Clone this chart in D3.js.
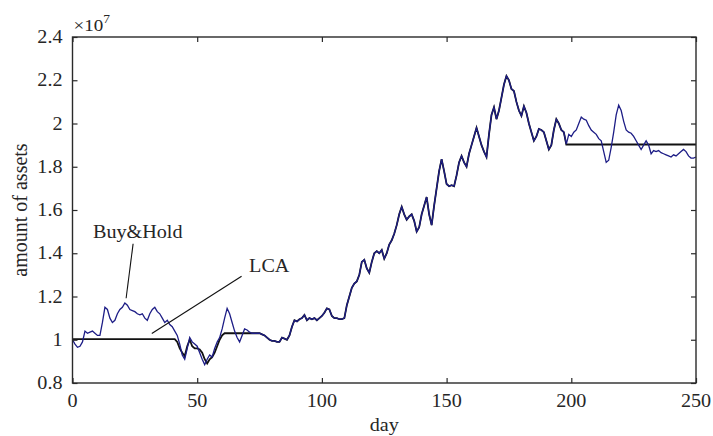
<!DOCTYPE html>
<html>
<head>
<meta charset="utf-8">
<script src="https://cdn.jsdelivr.net/npm/d3@7"></script>
<style>
  body { margin: 0; background: #fff; }
  text { font-family: "Liberation Serif", "DejaVu Serif", serif; fill: #262626; }
</style>
</head>
<body>
<svg id="chart" width="713" height="436"></svg>
<script>
// values in units of 1e7, one per day (0..250)
let buyHold = [
  1.00, 0.98, 0.965, 0.97, 0.99, 1.04, 1.03, 1.035, 1.04, 1.03,
  1.02, 1.02, 1.08, 1.15, 1.14, 1.10, 1.08, 1.09, 1.12, 1.14,
  1.15, 1.17, 1.16, 1.14, 1.135, 1.13, 1.12, 1.115, 1.12, 1.10,
  1.09, 1.12, 1.14, 1.15, 1.13, 1.12, 1.10, 1.08, 1.09, 1.07,
  1.06, 1.04, 1.02, 0.98, 0.93, 0.91, 0.96, 1.01, 0.99, 0.98,
  0.97, 0.94, 0.91, 0.885, 0.91, 0.93, 0.92, 0.96, 0.99, 1.01,
  1.05, 1.10, 1.145, 1.12, 1.08, 1.04, 1.01, 0.99, 1.02, 1.05,
  1.045, 1.035, 1.03, 1.03, 1.03, 1.03, 1.025, 1.02, 1.01, 1.00,
  0.995, 0.995, 0.99, 0.99, 1.01, 1.005, 1.00, 1.02, 1.06, 1.09,
  1.085, 1.095, 1.10, 1.115, 1.09, 1.10, 1.095, 1.10, 1.09, 1.10,
  1.11, 1.125, 1.145, 1.14, 1.11, 1.10, 1.10, 1.095, 1.095, 1.10,
  1.16, 1.20, 1.24, 1.26, 1.27, 1.30, 1.36, 1.37, 1.33, 1.31,
  1.36, 1.40, 1.41, 1.40, 1.415, 1.375, 1.40, 1.44, 1.46, 1.49,
  1.53, 1.58, 1.615, 1.58, 1.555, 1.57, 1.58, 1.55, 1.50, 1.52,
  1.58, 1.62, 1.66, 1.58, 1.53, 1.62, 1.70, 1.78, 1.835, 1.78,
  1.72, 1.71, 1.715, 1.71, 1.76, 1.82, 1.85, 1.82, 1.80, 1.86,
  1.90, 1.94, 1.98, 1.94, 1.90, 1.87, 1.845, 1.95, 2.04, 2.075,
  2.02, 2.06, 2.12, 2.18, 2.22, 2.20, 2.16, 2.15, 2.10, 2.06,
  2.035, 2.08, 2.05, 2.00, 1.96, 1.92, 1.94, 1.975, 1.97, 1.96,
  1.92, 1.88, 1.90, 1.97, 2.02, 2.00, 1.97, 1.96, 1.905, 1.95,
  1.94, 1.96, 1.97, 2.00, 2.03, 2.02, 2.015, 1.99, 1.97, 1.96,
  1.95, 1.93, 1.92, 1.87, 1.82, 1.83, 1.89, 1.96, 2.04, 2.085,
  2.06, 2.01, 1.97, 1.96, 1.955, 1.94, 1.92, 1.90, 1.88, 1.90,
  1.92, 1.90, 1.86, 1.875, 1.87, 1.875, 1.865, 1.86, 1.855, 1.85,
  1.845, 1.855, 1.85, 1.86, 1.87, 1.88, 1.87, 1.85, 1.84, 1.84,
  1.845
];

let lca = [
  1.003, 1.003, 1.003, 1.003, 1.003, 1.003, 1.003, 1.003, 1.003, 1.003,
  1.003, 1.003, 1.003, 1.003, 1.003, 1.003, 1.003, 1.003, 1.003, 1.003,
  1.003, 1.003, 1.003, 1.003, 1.003, 1.003, 1.003, 1.003, 1.003, 1.003,
  1.003, 1.003, 1.003, 1.003, 1.003, 1.003, 1.003, 1.003, 1.003, 1.003,
  1.003, 1.003, 0.99, 0.96, 0.94, 0.925, 0.97, 1.00, 0.97, 0.96,
  0.96, 0.955, 0.94, 0.91, 0.89, 0.91, 0.92, 0.94, 0.97, 1.00,
  1.02, 1.03, 1.03, 1.03, 1.03, 1.03, 1.03, 1.03, 1.03, 1.03,
  1.03, 1.03, 1.03, 1.03, 1.03, 1.03, 1.025, 1.02, 1.01, 1.00,
  0.995, 0.995, 0.99, 0.99, 1.01, 1.005, 1.00, 1.02, 1.06, 1.09,
  1.085, 1.095, 1.10, 1.115, 1.09, 1.10, 1.095, 1.10, 1.09, 1.10,
  1.11, 1.125, 1.145, 1.14, 1.11, 1.10, 1.10, 1.095, 1.095, 1.10,
  1.16, 1.20, 1.24, 1.26, 1.27, 1.30, 1.36, 1.37, 1.33, 1.31,
  1.36, 1.40, 1.41, 1.40, 1.415, 1.375, 1.40, 1.44, 1.46, 1.49,
  1.53, 1.58, 1.615, 1.58, 1.555, 1.57, 1.58, 1.55, 1.50, 1.52,
  1.58, 1.62, 1.66, 1.58, 1.53, 1.62, 1.70, 1.78, 1.835, 1.78,
  1.72, 1.71, 1.715, 1.71, 1.76, 1.82, 1.85, 1.82, 1.80, 1.86,
  1.90, 1.94, 1.98, 1.94, 1.90, 1.87, 1.845, 1.95, 2.04, 2.075,
  2.02, 2.06, 2.12, 2.18, 2.22, 2.20, 2.16, 2.15, 2.10, 2.06,
  2.035, 2.08, 2.05, 2.00, 1.96, 1.92, 1.94, 1.975, 1.97, 1.96,
  1.92, 1.88, 1.90, 1.97, 2.02, 2.00, 1.97, 1.96, 1.903, 1.903,
  1.903, 1.903, 1.903, 1.903, 1.903, 1.903, 1.903, 1.903, 1.903, 1.903,
  1.903, 1.903, 1.903, 1.903, 1.903, 1.903, 1.903, 1.903, 1.903, 1.903,
  1.903, 1.903, 1.903, 1.903, 1.903, 1.903, 1.903, 1.903, 1.903, 1.903,
  1.903, 1.903, 1.903, 1.903, 1.903, 1.903, 1.903, 1.903, 1.903, 1.903,
  1.903, 1.903, 1.903, 1.903, 1.903, 1.903, 1.903, 1.903, 1.903, 1.903,
  1.903
];

let xTicks = [0, 50, 100, 150, 200, 250];
let yTicks = [0.8, 1, 1.2, 1.4, 1.6, 1.8, 2, 2.2, 2.4];

// annotations: label position and leader line, in data coords [day, value]
let notes = [
  { label: 'Buy&Hold', at: [8.2, 1.469], from: [24.3, 1.444], to: [21.5, 1.192] },
  { label: 'LCA', at: [70.8, 1.312], from: [67.8, 1.294], to: [31.8, 1.029] }
];

let w = 713, h = 436,
  m = {t: 37, r: 17, b: 53, l: 72.5};

let svg = d3.select('#chart');

let x = d3.scaleLinear().domain([0, 250]).range([m.l, w - m.r]);
let y = d3.scaleLinear().domain([0.8, 2.4]).range([h - m.b, m.t]);

let stretch = 'scale(1.12,1)';

// series
let line = d3.line()
  .x((d, i) => x(i))
  .y((d) => y(d));

svg.append('path')
  .datum(lca)
  .attr('d', line)
  .attr('fill', 'none')
  .attr('stroke', '#111')
  .attr('stroke-width', 1.8);

svg.append('path')
  .datum(buyHold)
  .attr('d', line)
  .attr('fill', 'none')
  .attr('stroke', '#1d1d86')
  .attr('stroke-width', 1.3);

// axes: inward ticks on all four sides
let axisColor = '#2a2a2a';

function styleAxis(g) {
  g.select('.domain').remove();
  g.selectAll('line').attr('stroke', axisColor).attr('stroke-width', 1.2);
  g.selectAll('text').remove();
}

svg.append('g')
  .attr('transform', `translate(0,${h - m.b})`)
  .call(d3.axisBottom(x).tickValues(xTicks).tickSizeInner(-5).tickSizeOuter(0))
  .call(styleAxis);

svg.append('g')
  .attr('transform', `translate(0,${m.t})`)
  .call(d3.axisTop(x).tickValues(xTicks).tickSizeInner(-5).tickSizeOuter(0))
  .call(styleAxis);

svg.append('g')
  .attr('transform', `translate(${m.l},0)`)
  .call(d3.axisLeft(y).tickValues(yTicks).tickSizeInner(-5).tickSizeOuter(0))
  .call(styleAxis);

svg.append('g')
  .attr('transform', `translate(${w - m.r},0)`)
  .call(d3.axisRight(y).tickValues(yTicks).tickSizeInner(-5).tickSizeOuter(0))
  .call(styleAxis);

svg.append('rect')
  .attr('x', m.l)
  .attr('y', m.t)
  .attr('width', w - m.r - m.l)
  .attr('height', h - m.b - m.t)
  .attr('fill', 'none')
  .attr('stroke', axisColor)
  .attr('stroke-width', 1.4);

// tick labels
svg.selectAll('.xlab')
  .data(xTicks)
  .enter()
  .append('g')
  .attr('transform', (d) => `translate(${x(d)},${h - m.b + 24})`)
  .append('text')
  .attr('transform', stretch)
  .attr('text-anchor', 'middle')
  .style('font-size', '18px')
  .text((d) => d);

svg.selectAll('.ylab')
  .data(yTicks)
  .enter()
  .append('g')
  .attr('transform', (d) => `translate(${m.l - 10},${y(d) + 6})`)
  .append('text')
  .attr('transform', stretch)
  .attr('text-anchor', 'end')
  .style('font-size', '18px')
  .text((d) => d);

// exponent
let ex = svg.append('g')
  .attr('transform', `translate(${m.l + 1},${m.t - 6})`)
  .append('text')
  .attr('transform', stretch)
  .style('font-size', '17px');
ex.append('tspan').text('\u00d710');
ex.append('tspan').attr('dy', -8).style('font-size', '12px').text('7');

// axis titles
svg.append('g')
  .attr('transform', `translate(${(m.l + w - m.r) / 2},${h - 5})`)
  .append('text')
  .attr('transform', stretch)
  .attr('text-anchor', 'middle')
  .style('font-size', '18px')
  .text('day');

svg.append('text')
  .attr('transform', `translate(27,${(m.t + h - m.b) / 2}) rotate(-90)`)
  .attr('text-anchor', 'middle')
  .style('font-size', '20px')
  .text('amount of assets');

// annotations
for (let n of notes) {
  svg.append('line')
    .attr('x1', x(n.from[0]))
    .attr('y1', y(n.from[1]))
    .attr('x2', x(n.to[0]))
    .attr('y2', y(n.to[1]))
    .attr('stroke', '#111')
    .attr('stroke-width', 1.1);

  svg.append('g')
    .attr('transform', `translate(${x(n.at[0])},${y(n.at[1])})`)
    .append('text')
    .attr('transform', stretch)
    .style('font-size', '18px')
    .text(n.label);
}
</script>
</body>
</html>
